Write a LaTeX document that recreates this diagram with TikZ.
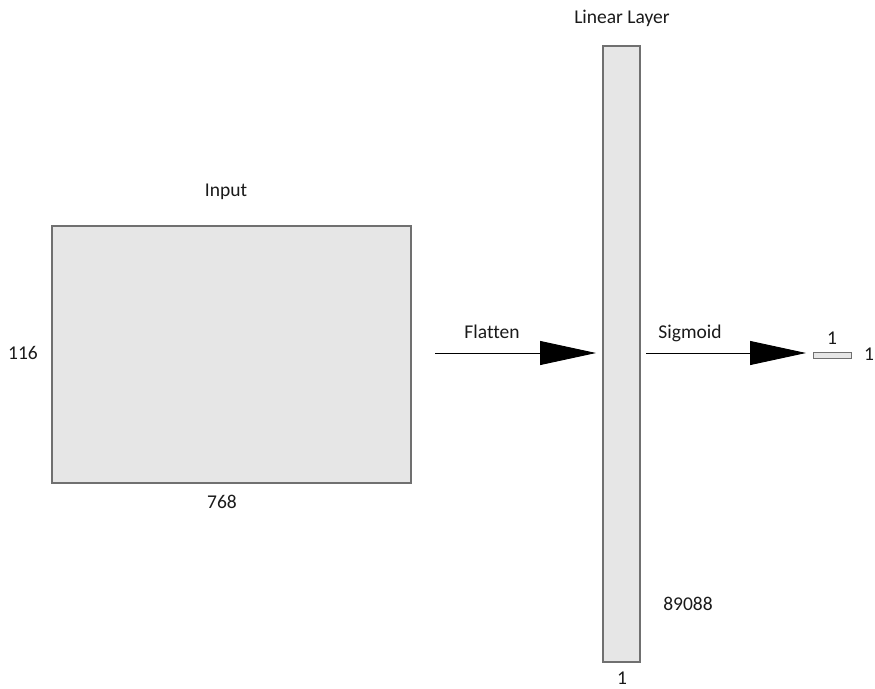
\documentclass[tikz,border=0pt]{standalone}
\usepackage{fontspec}
\setmainfont{Carlito}[Ligatures=NoCommon]
\usetikzlibrary{arrows.meta}
\definecolor{boxfill}{HTML}{E6E6E6}
\definecolor{boxline}{HTML}{707070}
\definecolor{txt}{HTML}{1A1A1A}
\tikzset{
  layerbox/.style={draw=boxline, line width=1.2pt, fill=boxfill, inner sep=0pt, outer sep=0pt},
  lbl/.style={inner sep=0pt, text=txt, font=\fontsize{19.5}{23}\selectfont},
  flow/.style={line width=0.9pt, -{Triangle[length=56pt,width=24pt]}, shorten >=7pt},
}
\begin{document}
\begin{tikzpicture}[x=1pt,y=-1pt]
\useasboundingbox (0,0) rectangle (875,688);
% boxes
\node[layerbox, minimum width=359pt, minimum height=257pt] (inp) at (231.5,354.5) {};
\node[layerbox, minimum width=37pt, minimum height=616pt] (lin) at (621.5,354) {};
\node[layerbox, minimum width=38pt, minimum height=6pt, line width=1pt] (out) at (832,355) {};
% labels
\node[lbl] (tinp) at (226,192) {Input};
\node[lbl] (th) at (23,353) {116};
\node[lbl] (tw) at (222,502) {768};
\node[lbl] (tlin) at (622,18) {Linear Layer};
\node[lbl] (tlw) at (622,678) {1};
\node[lbl] (tlh) at (688,604) {89088};
\node[lbl] (tflat) at (492,332) {Flatten};
\node[lbl] (tsig) at (690,333) {Sigmoid};
\node[lbl] (tow) at (832,338) {1};
\node[lbl] (toh) at (869,354) {1};
% connectors
\coordinate (fstart) at (435,353);
\coordinate (sstart) at (646,353);
\draw[flow] (fstart) -- (fstart -| lin.west);
\draw[flow] (sstart) -- (sstart -| out.west);
\end{tikzpicture}
\end{document}
